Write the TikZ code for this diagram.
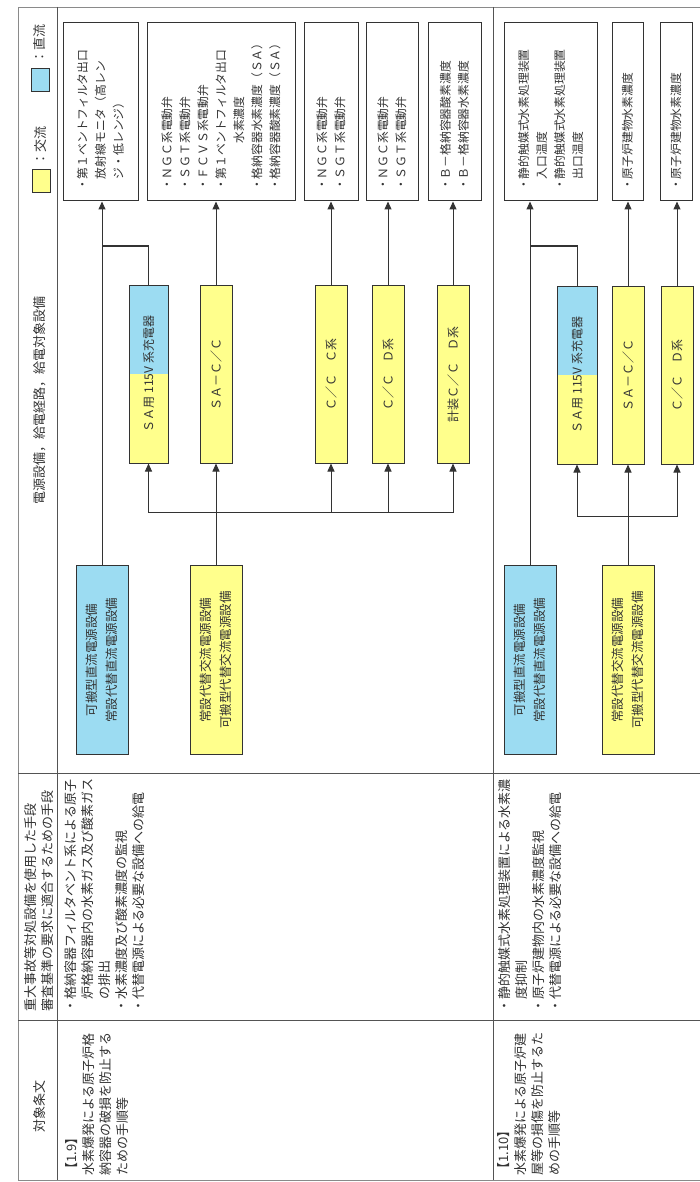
\documentclass[tikz,border=0pt]{standalone}
\usepackage{fontspec}
\setmainfont{Noto Sans CJK JP}
\usepackage{tikz}
\usetikzlibrary{arrows.meta,backgrounds}
\definecolor{acyellow}{HTML}{FFFF8C}
\definecolor{dcblue}{HTML}{9CDCF2}
\definecolor{rule}{HTML}{8A8A8A}
\definecolor{ink}{HTML}{333333}

\tikzset{
  tbltext/.style={rotate=90, inner sep=0pt, align=left, text=ink,
    font=\fontsize{13}{17}\selectfont},
  srcbox/.style={draw=ink, line width=1pt, rotate=90, minimum width=189pt,
    minimum height=52pt, align=center, inner sep=2pt, text=ink,
    font=\fontsize{12.5}{20}\selectfont},
  midbox/.style={draw=ink, line width=1pt, rotate=90, minimum width=178pt,
    inner sep=1pt, text=ink, font=\fontsize{12}{15}\selectfont},
  outbox/.style={draw=ink, line width=1pt, rotate=90, minimum width=178pt,
    text width=158pt, inner xsep=10pt, inner ysep=2pt, align=left, text=ink,
    font=\fontsize{11.8}{18}\selectfont},
  legbox/.style={draw=ink, line width=1pt, minimum width=18pt,
    minimum height=23pt, inner sep=0pt},
  conn/.style={draw=ink, line width=1pt, -{Triangle[length=8pt,width=7pt]}},
  wire/.style={draw=ink, line width=1pt}
}

\begin{document}
\begin{tikzpicture}[x=1pt, y=-1pt]
  \useasboundingbox (0,0) rectangle (700,1182);

  % table
  \draw[rule, line width=0.8pt] (700,7) -- (18,7) -- (18,1180) -- (700,1180);
  \draw[rule!60!black, line width=0.8pt] (57,7) -- (57,1180) (493,7) -- (493,1180)
    (18,773) -- (700,773) (18,1020) -- (700,1020);

  \node[tbltext] (hdrArt) at (40,1106) {対象条文};
  \node[tbltext, anchor=west] (hdrMeans) at (39,1012)
    {重大事故等対処設備を使用した手段\\審査基準の要求に適合するための手段};
  \node[tbltext] (hdrPower) at (40,400) {電源設備，給電経路，給電対象設備};
  \node[legbox, fill=acyellow] (legAC) at (41,181) {};
  \node[tbltext, anchor=west] (legACtxt) at (41,166) {：交流};
  \node[legbox, fill=dcblue] (legDC) at (40,80) {};
  \node[tbltext, anchor=west] (legDCtxt) at (40,64) {：直流};

  % 1.9
  \node[tbltext, anchor=west] (art19) at (97.5,1176)
    {【1.9】\\水素爆発による原子炉格\\納容器の破損を防止する\\ための手順等};
  \node[tbltext, anchor=west] (means19) at (105,1013)
    {・格納容器フィルタベント系による原子\\\hspace*{1em}炉格納容器内の水素ガス及び酸素ガス\\\hspace*{1em}の排出\\・水素濃度及び酸素濃度の監視\\・代替電源による必要な設備への給電};

  \node[srcbox, fill=dcblue] (dcA) at (102,660) {可搬型直流電源設備\\常設代替直流電源設備};
  \node[srcbox, fill=acyellow] (acA) at (216,660) {常設代替交流電源設備\\可搬型代替交流電源設備};

  \node[midbox, minimum height=39pt] (chgA) at (148.5,374) {ＳＡ用 115V 系充電器};
  \node[midbox, fill=acyellow, minimum height=32pt] (sacA) at (216,374) {ＳＡ－Ｃ／Ｃ};
  \node[midbox, fill=acyellow, minimum height=32pt] (ccCa) at (331,374) {Ｃ／Ｃ　Ｃ系};
  \node[midbox, fill=acyellow, minimum height=32pt] (ccDa) at (388,374) {Ｃ／Ｃ　Ｄ系};
  \node[midbox, fill=acyellow, minimum height=32pt] (kcDa) at (453,374) {計装Ｃ／Ｃ　Ｄ系};

  \node[outbox, minimum height=75pt] (outA1) at (100.5,112)
    {・第１ベントフィルタ出口\\\hspace*{1em}放射線モニタ（高レン\\\hspace*{1em}ジ・低レンジ）};
  \node[outbox, minimum height=148pt] (outA2) at (221,112)
    {・ＮＧＣ系電動弁\\・ＳＧＴ系電動弁\\・ＦＣＶＳ系電動弁\\・第１ベントフィルタ出口\\\hspace*{4em}水素濃度\\・格納容器水素濃度（ＳＡ）\\・格納容器酸素濃度（ＳＡ）};
  \node[outbox, minimum height=54pt] (outA3) at (331,112) {・ＮＧＣ系電動弁\\・ＳＧＴ系電動弁};
  \node[outbox, minimum height=52pt] (outA4) at (392,112) {・ＮＧＣ系電動弁\\・ＳＧＴ系電動弁};
  \node[outbox, minimum height=53pt] (outA5) at (454.5,112) {・Ｂ－格納容器酸素濃度\\・Ｂ－格納容器水素濃度};

  \coordinate (jA) at (102,246);
  \coordinate (busA) at (216,512);
  \draw[conn] (dcA.east) -- (dcA.east |- outA1.west);
  \draw[wire] (chgA.east) |- (jA);
  \draw[conn] (acA.east) -- (acA.east |- sacA.west);
  \draw[conn] (busA) -| (chgA.west);
  \draw[conn] (busA) -| (ccCa.west);
  \draw[conn] (busA) -| (ccDa.west);
  \draw[conn] (busA) -| (kcDa.west);
  \draw[conn] (sacA.east) -- (sacA.east |- outA2.west);
  \draw[conn] (ccCa.east) -- (ccCa.east |- outA3.west);
  \draw[conn] (ccDa.east) -- (ccDa.east |- outA4.west);
  \draw[conn] (kcDa.east) -- (kcDa.east |- outA5.west);

  % 1.10
  \node[tbltext, anchor=west] (art110) at (529,1176)
    {【1.10】\\水素爆発による原子炉建\\屋等の損傷を防止するた\\めの手順等};
  \node[tbltext, anchor=west] (means110) at (530,1013)
    {・静的触媒式水素処理装置による水素濃\\\hspace*{1em}度抑制\\・原子炉建物内の水素濃度監視\\・代替電源による必要な設備への給電};

  \node[srcbox, fill=dcblue] (dcB) at (530,660) {可搬型直流電源設備\\常設代替直流電源設備};
  \node[srcbox, fill=acyellow] (acB) at (628,660) {常設代替交流電源設備\\可搬型代替交流電源設備};

  \node[midbox, minimum height=40pt] (chgB) at (577,375) {ＳＡ用 115V 系充電器};
  \node[midbox, fill=acyellow, minimum height=32pt] (sacB) at (628,375) {ＳＡ－Ｃ／Ｃ};
  \node[midbox, fill=acyellow, minimum height=32pt] (ccDb) at (677,375) {Ｃ／Ｃ　Ｄ系};

  \node[outbox, minimum height=93pt] (outB1) at (550.5,112)
    {・静的触媒式水素処理装置\\\hspace*{1em}入口温度\\・静的触媒式水素処理装置\\\hspace*{1em}出口温度};
  \node[outbox, minimum height=31pt] (outB2) at (627.5,112) {・原子炉建物水素濃度};
  \node[outbox, minimum height=32pt] (outB3) at (676,112) {・原子炉建物水素濃度};

  \coordinate (jB) at (530,246);
  \coordinate (busB) at (628,516);
  \draw[conn] (dcB.east) -- (dcB.east |- outB1.west);
  \draw[wire] (chgB.east) |- (jB);
  \draw[conn] (acB.east) -- (acB.east |- sacB.west);
  \draw[conn] (busB) -| (chgB.west);
  \draw[conn] (busB) -| (ccDb.west);
  \draw[conn] (sacB.east) -- (sacB.east |- outB2.west);
  \draw[conn] (ccDb.east) -- (ccDb.east |- outB3.west);

  \begin{scope}[on background layer]
    \fill[dcblue] (chgA.north east) rectangle (chgA.south);
    \fill[acyellow] (chgA.north) rectangle (chgA.south west);
    \fill[dcblue] (chgB.north east) rectangle (chgB.south);
    \fill[acyellow] (chgB.north) rectangle (chgB.south west);
  \end{scope}
\end{tikzpicture}
\end{document}
